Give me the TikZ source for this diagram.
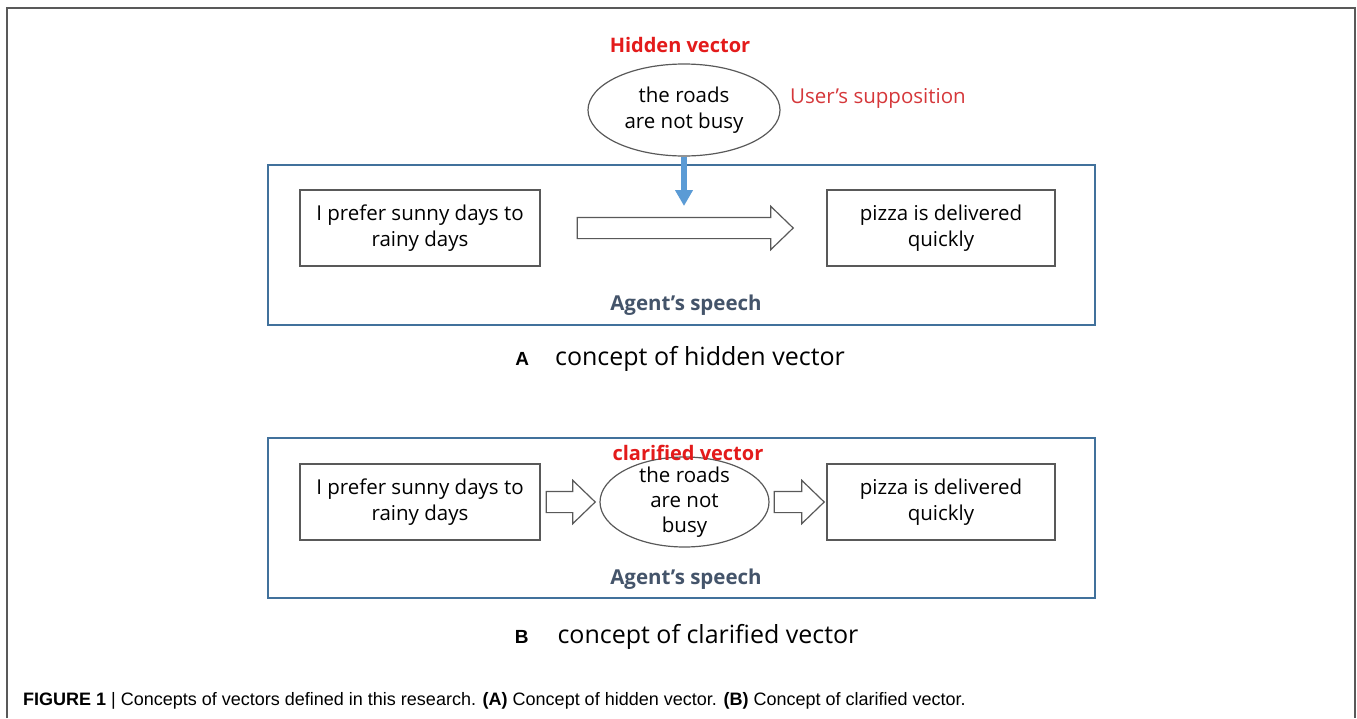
\documentclass[tikz,border=0pt]{standalone}
\usepackage{fontspec}
\setmainfont{Open Sans}
\newfontfamily\capfont{Liberation Sans}
\usetikzlibrary{positioning,arrows.meta,calc,shapes.geometric,shapes.arrows}
\definecolor{hidred}{HTML}{E31B1B}
\definecolor{suppred}{HTML}{D5373A}
\definecolor{panelblue}{HTML}{41719C}
\definecolor{arrowblue}{HTML}{5B9BD5}
\definecolor{agentgray}{HTML}{44546A}
\definecolor{linegray}{HTML}{595959}
\newcommand{\bodyfont}{\fontsize{20.5}{26}\selectfont}

\begin{document}
\begin{tikzpicture}[x=1pt,y=-1pt,
  txtbox/.style={draw=linegray,line width=1.2pt,minimum height=76pt,align=center,font=\bodyfont},
  vecell/.style={ellipse,draw=linegray,line width=1.2pt,inner xsep=0pt,align=center,font=\bodyfont},
  panel/.style={draw=panelblue,line width=2pt,minimum width=827pt,minimum height=160pt},
  blockarrow/.style={single arrow,draw=linegray,line width=1.2pt,fill=white,inner xsep=0pt,inner ysep=10pt,
    minimum width=42pt,single arrow head extend=11pt,single arrow tip angle=88,anchor=tail},
  agent/.style={text=agentgray,font=\bfseries\bodyfont},
  redlbl/.style={text=hidred,font=\bfseries\fontsize{20}{24}\selectfont},
  sublbl/.style={font=\fontsize{25}{30}\selectfont},
  letterlbl/.style={font=\capfont\bfseries\fontsize{19}{22}\selectfont}]
\useasboundingbox (0,0) rectangle (1357,718);
\draw[line width=1.8pt,black!65] (7,718) -- (7,8) -- (1355,8) -- (1355,718);

% (A) hidden vector
\node[panel] (pa) at (681.5,245) {};
\node[txtbox,minimum width=240pt] (a1) at (420,228) {I prefer sunny days to\\rainy days};
\node[txtbox,minimum width=228pt] (a2) at (941,228) {pizza is delivered\\quickly};
\node[blockarrow,minimum height=216pt] (va) at ($(a1.east)+(36,0)$) {};
\node[vecell,minimum width=192pt,minimum height=92pt] (hid) at (684,110) {the roads\\are not busy};
\node[redlbl] (hidlbl) at (680,45) {Hidden vector};
\node[right=6pt of hid,yshift=12pt,text=suppred,font=\bodyfont] (supp) {User’s supposition};
\coordinate (hit) at (684,206);
\draw[arrowblue,line width=6.5pt,-{Triangle[width=17pt,length=16pt]}] (hid.south) -- (hit);
\node[agent] (agA) at (686,305) {Agent’s speech};
\node[sublbl] (capA) at (700,359) {concept of hidden vector};
\node[letterlbl,anchor=base east] (labA) at ($(capA.base west)+(-19,0)$) {A};

% (B) clarified vector
\node[panel] (pb) at (681.5,518) {};
\node[txtbox,minimum width=240pt] (b1) at (420,502) {I prefer sunny days to\\rainy days};
\node[txtbox,minimum width=228pt] (b2) at (941,502) {pizza is delivered\\quickly};
\node[vecell,inner ysep=-3.5pt,minimum width=169pt,minimum height=90pt,font=\fontsize{20.5}{25}\selectfont] (clr) at (684.5,502) {the roads\\are not\\busy};
\node[blockarrow,minimum height=49pt] (vb1) at ($(b1.east)+(5,0)$) {};
\node[blockarrow,minimum height=50pt] (vb2) at ($(clr.east)+(4,0)$) {};
\node[redlbl] (clrlbl) at (688,453) {clarified vector};
\node[agent] (agB) at (686,579) {Agent’s speech};
\node[sublbl] (capB) at (708,637) {concept of clarified vector};
\node[letterlbl,anchor=base east] (labB) at ($(capB.base west)+(-22,0)$) {B};

\node[anchor=west,inner sep=0pt] (fig) at (23,701) {\capfont\fontsize{18}{20}\selectfont\textbf{FIGURE 1} | Concepts of vectors defined in this research. \textbf{(A)} Concept of hidden vector. \textbf{(B)} Concept of clarified vector.};
\end{tikzpicture}
\end{document}
